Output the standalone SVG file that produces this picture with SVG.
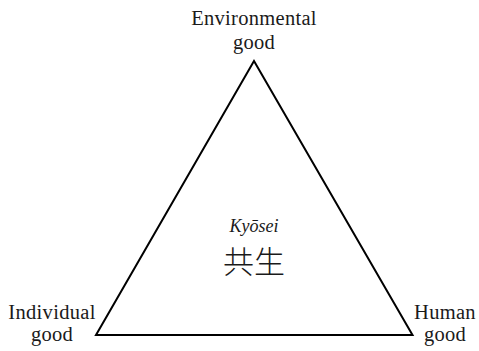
<svg xmlns="http://www.w3.org/2000/svg" width="479" height="351" viewBox="0 0 479 351">
<style>
.lbl{font-size:20.5px;letter-spacing:0.3px}
.it{font-size:18px;font-style:italic}
.cjk{font-size:31px;font-weight:300}
</style>
<rect width="479" height="351" fill="#fff"/>
<g id="connectors">
<polygon points="254,61 96,335 412.5,335" fill="none" stroke="#000" stroke-width="2" stroke-linejoin="miter"/>
</g>
<g font-family="Liberation Serif, Times New Roman, serif" fill="#1a1a1a" text-anchor="middle">
<g id="environmental">
<text class="lbl" x="254" y="25">Environmental</text>
<text class="lbl" x="254" y="49">good</text>
</g>
<g id="individual">
<text class="lbl" x="52" y="319">Individual</text>
<text class="lbl" x="52" y="341">good</text>
</g>
<g id="human">
<text class="lbl" x="445" y="319">Human</text>
<text class="lbl" x="445" y="341">good</text>
</g>
<g id="kyosei">
<text class="it" x="254" y="232">Kyōsei</text>
<text class="cjk" x="254" y="273" font-family="Noto Sans CJK JP, sans-serif">共生</text>
</g>
</g>
</svg>
